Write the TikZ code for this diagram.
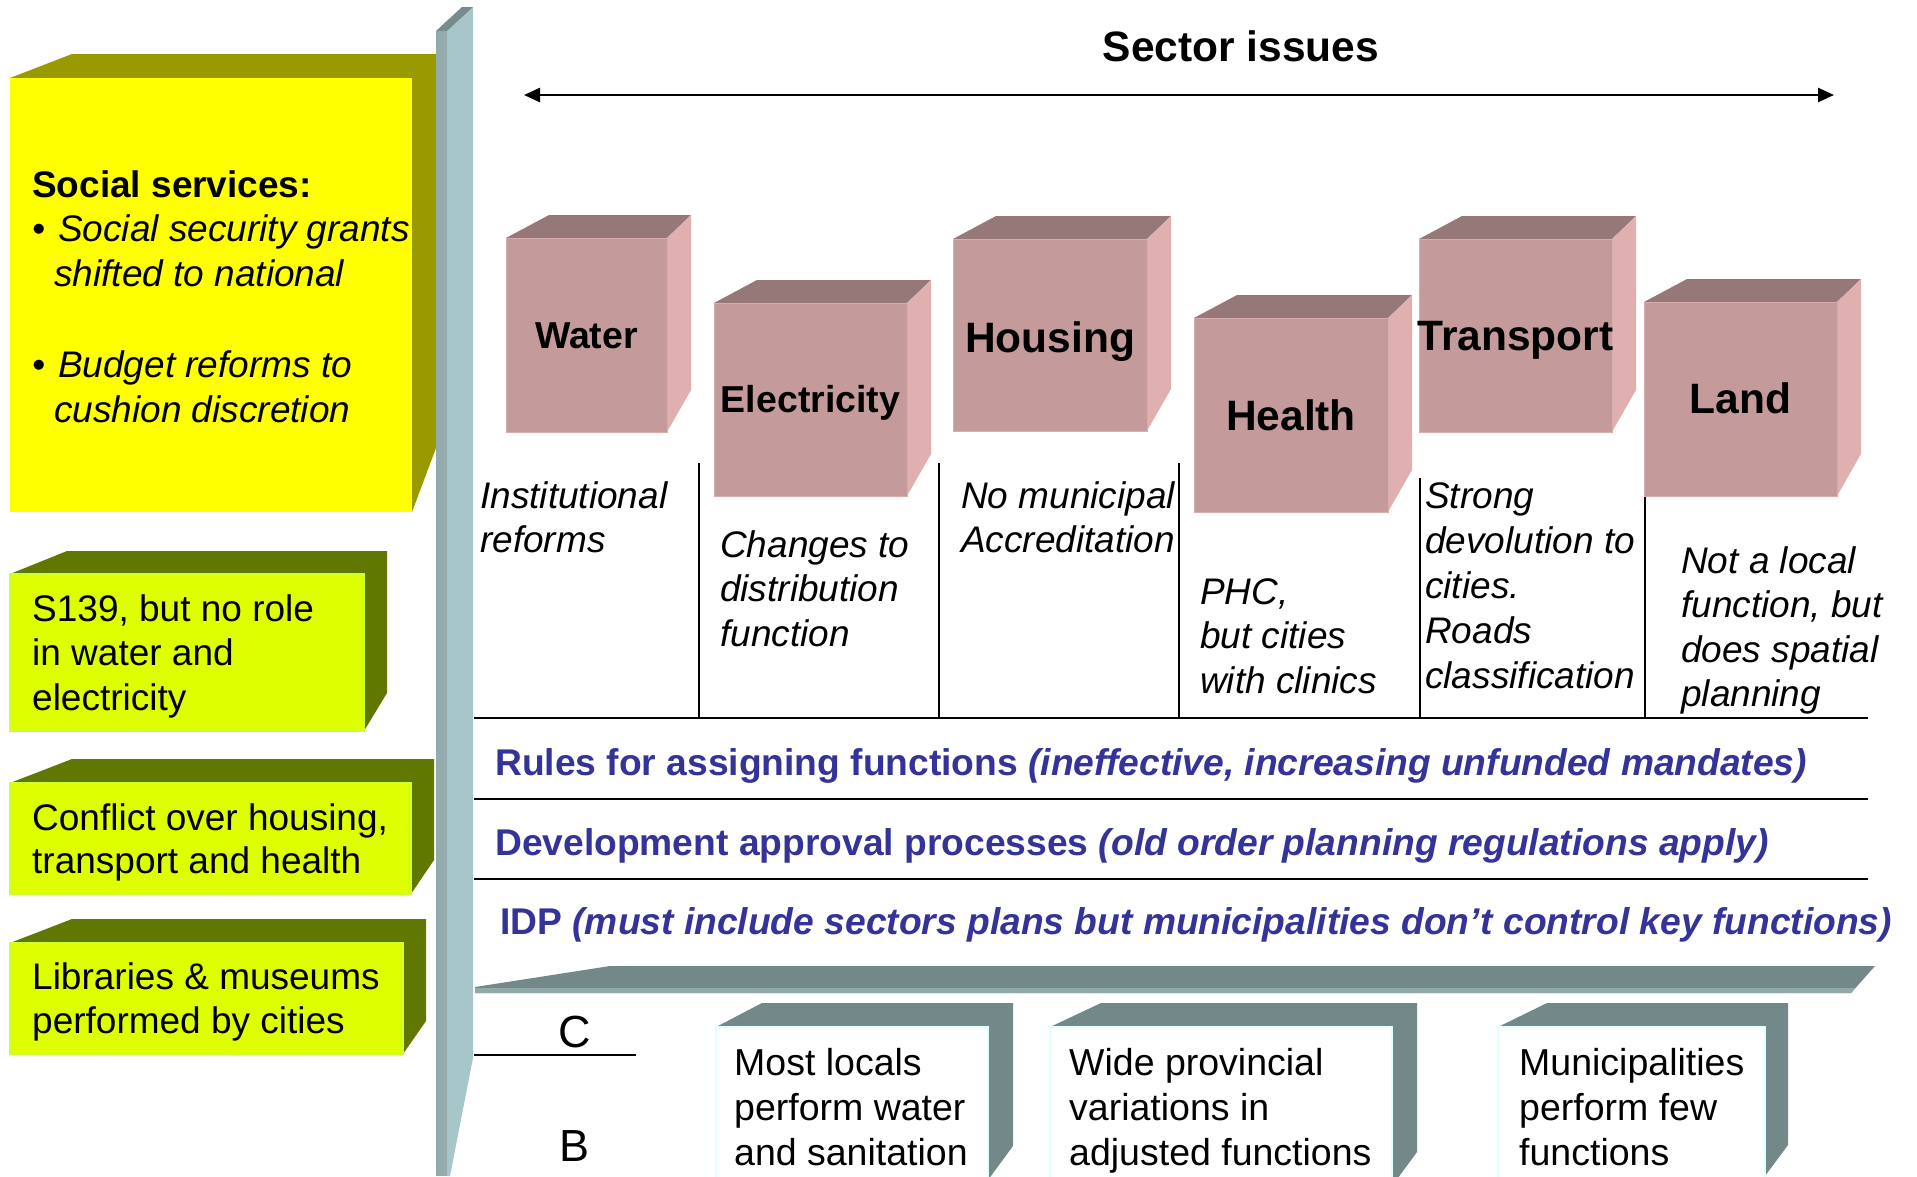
\documentclass[tikz,border=0pt]{standalone}
\usepackage{fontspec}
\setmainfont{Liberation Sans}
\usetikzlibrary{arrows.meta}
\definecolor{yelF}{RGB}{255,255,0}
\definecolor{yelD}{RGB}{153,153,0}
\definecolor{grnF}{RGB}{221,255,0}
\definecolor{grnB}{RGB}{204,255,51}
\definecolor{grnD}{RGB}{96,120,0}
\definecolor{pinkF}{RGB}{196,154,154}
\definecolor{pinkT}{RGB}{150,120,120}
\definecolor{pinkS}{RGB}{224,176,176}
\definecolor{pinkB}{RGB}{214,172,172}
\definecolor{pilA}{RGB}{148,171,174}
\definecolor{pilB}{RGB}{167,198,201}
\definecolor{pilT}{RGB}{117,139,140}
\definecolor{shelfD}{RGB}{115,136,136}
\definecolor{shelfL}{RGB}{143,169,169}
\definecolor{boxB}{RGB}{224,255,255}
\definecolor{rowblue}{RGB}{51,51,153}

\begin{document}
\begin{tikzpicture}[x=1pt,y=-1pt,line join=miter,
  pinkfront/.style={fill=pinkF,draw=pinkB,line width=1pt},
  pinktop/.style={fill=pinkT},
  pinkside/.style={fill=pinkS},
  cubelabel/.style={anchor=base,inner sep=0,font=\bfseries\fontsize{42.5}{42.5}\selectfont},
  coltext/.style={anchor=base west,inner sep=0},
  rowtext/.style={anchor=base west,inner sep=0,text=rowblue,font=\bfseries\fontsize{37.2}{37.2}\selectfont},
  sepline/.style={line width=2pt},
  rowline/.style={line width=2.6pt},
  lowbox/.style={fill=white,draw=boxB,line width=2pt}]
\useasboundingbox (0,0) rectangle (1917,1176);
\clip (0,0) rectangle (1917,1176);

% left boxes
\fill[yelD] (10,78)--(72,54)--(436,54)--(436,448)--(412,512)--(412,78)--cycle;
\fill[yelF] (10,78) rectangle (412,512);
\fill[grnD] (10,574)--(67,551)--(387,551)--(387,693)--(364,731)--(364,574)--cycle;
\fill[grnF,draw=grnB,line width=1.5pt] (10,574) rectangle (364,731);
\fill[grnD] (10,783)--(72,759)--(434,759)--(434,860)--(411,894)--(411,783)--cycle;
\fill[grnF,draw=grnB,line width=1.5pt] (10,783) rectangle (411,894);
\fill[grnD] (10,943)--(72,919)--(426,919)--(426,1021)--(403,1054)--(403,943)--cycle;
\fill[grnF,draw=grnB,line width=1.5pt] (10,943) rectangle (403,1054);

\node[coltext,font=\bfseries\fontsize{37}{37}\selectfont] (social) at (32,197) {Social services:};
\node[coltext] (grants) at (32,241.5) {\parbox[t]{440pt}{\fontsize{37}{44.5}\selectfont\itshape
  •\hspace{13pt}Social security grants\\\hspace*{22pt}shifted to national}};
\node[coltext] (budget) at (32,377.5) {\parbox[t]{440pt}{\fontsize{37}{44.5}\selectfont\itshape
  •\hspace{13pt}Budget reforms to\\\hspace*{22pt}cushion discretion}};
\node[coltext] (sonethree) at (32,621) {\parbox[t]{420pt}{\fontsize{37}{44.5}\selectfont
  S139, but no role\\in water and\\electricity}};
\node[coltext] (conflict) at (32,830) {\parbox[t]{420pt}{\fontsize{37}{43.5}\selectfont
  Conflict over housing,\\transport and health}};
\node[coltext] (library) at (32,989.5) {\parbox[t]{420pt}{\fontsize{37}{43.5}\selectfont
  Libraries \& museums\\performed by cities}};

% pillar
\fill[pilA] (436,31) rectangle (447,1176);
\fill[pilB] (447,31)--(473,7)--(473,1058)--(450,1176)--(447,1176)--cycle;
\fill[pilT] (436,31)--(462,7)--(473,7)--(447,31)--cycle;

% header and arrow
\node[anchor=base,inner sep=0,font=\bfseries\fontsize{42.5}{42.5}\selectfont] (sector) at (1241,61) {Sector issues};
\coordinate (arrowL) at (524,95);
\coordinate (arrowR) at (1834,95);
\draw[{Triangle[length=16pt,width=14pt]}-{Triangle[length=16pt,width=14pt]},line width=2.5pt] (arrowL) -- (arrowR);

% column grid
\draw[sepline] (699,463) -- (699,718);
\draw[sepline] (939,463) -- (939,718);
\draw[sepline] (1179,463) -- (1179,718);
\draw[sepline] (1420,478) -- (1420,718);
\draw[sepline] (1645,463) -- (1645,718);
\draw[rowline] (474,718) -- (1868,718);
\draw[rowline] (474,799) -- (1868,799);
\draw[rowline] (474,879) -- (1868,879);

% sector cubes
\fill[pinktop] (506,238)--(549,215)--(691,215)--(667,238)--cycle;
\fill[pinkside] (667,238)--(691,215)--(691,390)--(667,432)--cycle;
\draw[pinkfront] (506,238) rectangle (667,432);
\fill[pinktop] (714,303)--(757,280)--(931,280)--(907,303)--cycle;
\fill[pinkside] (907,303)--(931,280)--(931,454)--(907,496)--cycle;
\draw[pinkfront] (714,303) rectangle (907,496);
\fill[pinktop] (953,239)--(996,216)--(1171,216)--(1147,239)--cycle;
\fill[pinkside] (1147,239)--(1171,216)--(1171,389)--(1147,431)--cycle;
\draw[pinkfront] (953,239) rectangle (1147,431);
\fill[pinktop] (1194,318)--(1237,295)--(1412,295)--(1388,318)--cycle;
\fill[pinkside] (1388,318)--(1412,295)--(1412,470)--(1388,512)--cycle;
\draw[pinkfront] (1194,318) rectangle (1388,512);
\fill[pinktop] (1419,239)--(1462,216)--(1636,216)--(1612,239)--cycle;
\fill[pinkside] (1612,239)--(1636,216)--(1636,390)--(1612,432)--cycle;
\draw[pinkfront] (1419,239) rectangle (1612,432);
\fill[pinktop] (1644,302)--(1687,279)--(1861,279)--(1837,302)--cycle;
\fill[pinkside] (1837,302)--(1861,279)--(1861,454)--(1837,496)--cycle;
\draw[pinkfront] (1644,302) rectangle (1837,496);

\node[cubelabel,font=\bfseries\fontsize{37.5}{37.5}\selectfont] (water) at (586.5,348) {Water};
\node[cubelabel,font=\bfseries\fontsize{37.5}{37.5}\selectfont] (electricity) at (810.5,412) {Electricity};
\node[cubelabel] (housing) at (1050,352) {Housing};
\node[cubelabel] (health) at (1291,430) {Health};
\node[cubelabel] (transport) at (1515.5,350) {Transport};
\node[cubelabel] (land) at (1740.5,413) {Land};

% column texts
\node[coltext] (waternote) at (480,508) {\parbox[t]{230pt}{\fontsize{37}{44.5}\selectfont\itshape
  Institutional\\reforms}};
\node[coltext] (electricnote) at (720,557) {\parbox[t]{230pt}{\fontsize{37}{44.5}\selectfont\itshape
  Changes to\\distribution\\function}};
\node[coltext] (housingnote) at (961,508) {\parbox[t]{230pt}{\fontsize{37}{44.5}\selectfont\itshape
  No municipal\\Accreditation}};
\node[coltext] (healthnote) at (1200,604) {\parbox[t]{230pt}{\fontsize{37}{44.8}\selectfont\itshape
  PHC,\\but cities\\with clinics}};
\node[coltext] (transportnote) at (1425,508) {\parbox[t]{230pt}{\fontsize{37}{45}\selectfont\itshape
  Strong\\devolution to\\cities.\\Roads\\classification}};
\node[coltext] (landnote) at (1681,573) {\parbox[t]{230pt}{\fontsize{37}{44.6}\selectfont\itshape
  Not a local\\function, but\\does spatial\\planning}};

% rows
\node[rowtext] (rules) at (495,775) {Rules for assigning functions \textit{(ineffective, increasing unfunded mandates)}};
\node[rowtext] (approval) at (495,855) {Development approval processes \textit{(old order planning regulations apply)}};
\node[rowtext] (idp) at (500,934) {IDP \textit{(must include sectors plans but municipalities don’t control key functions)}};

% shelf
\fill[shelfD] (475,993)--(475,987)--(610,966)--(1875,966)--(1851,993)--cycle;
\fill[shelfL] (475,988)--(1855,988)--(1851,993)--(475,993)--cycle;

% C over B
\node[anchor=base,inner sep=0,font=\fontsize{45}{45}\selectfont] (cgrade) at (575,1047) {C};
\node[anchor=base,inner sep=0,font=\fontsize{45}{45}\selectfont] (bgrade) at (575,1161) {B};
\draw[line width=2.2pt] (474,1055) -- (636,1055);

% lower boxes
\fill[shelfD] (716,1027)--(762,1003)--(1013,1003)--(1013,1146)--(988,1180)--(988,1027)--cycle;
\draw[lowbox] (716,1027) rectangle (988,1190);
\fill[shelfD] (1050,1027)--(1101,1003)--(1417,1003)--(1417,1152)--(1392,1186)--(1392,1027)--cycle;
\draw[lowbox] (1050,1027) rectangle (1392,1190);
\fill[shelfD] (1498,1027)--(1547,1003)--(1788,1003)--(1788,1145)--(1765,1176)--(1765,1027)--cycle;
\draw[lowbox] (1498,1027) rectangle (1765,1190);

\node[coltext] (locals) at (734,1075) {\parbox[t]{300pt}{\fontsize{37.5}{45}\selectfont
  Most locals\\perform water\\and sanitation}};
\node[coltext] (provincial) at (1069,1075) {\parbox[t]{340pt}{\fontsize{37.5}{45}\selectfont
  Wide provincial\\variations in\\adjusted functions}};
\node[coltext] (fewfunc) at (1519,1075) {\parbox[t]{300pt}{\fontsize{37.5}{45}\selectfont
  Municipalities\\perform few\\functions}};
\end{tikzpicture}
\end{document}
